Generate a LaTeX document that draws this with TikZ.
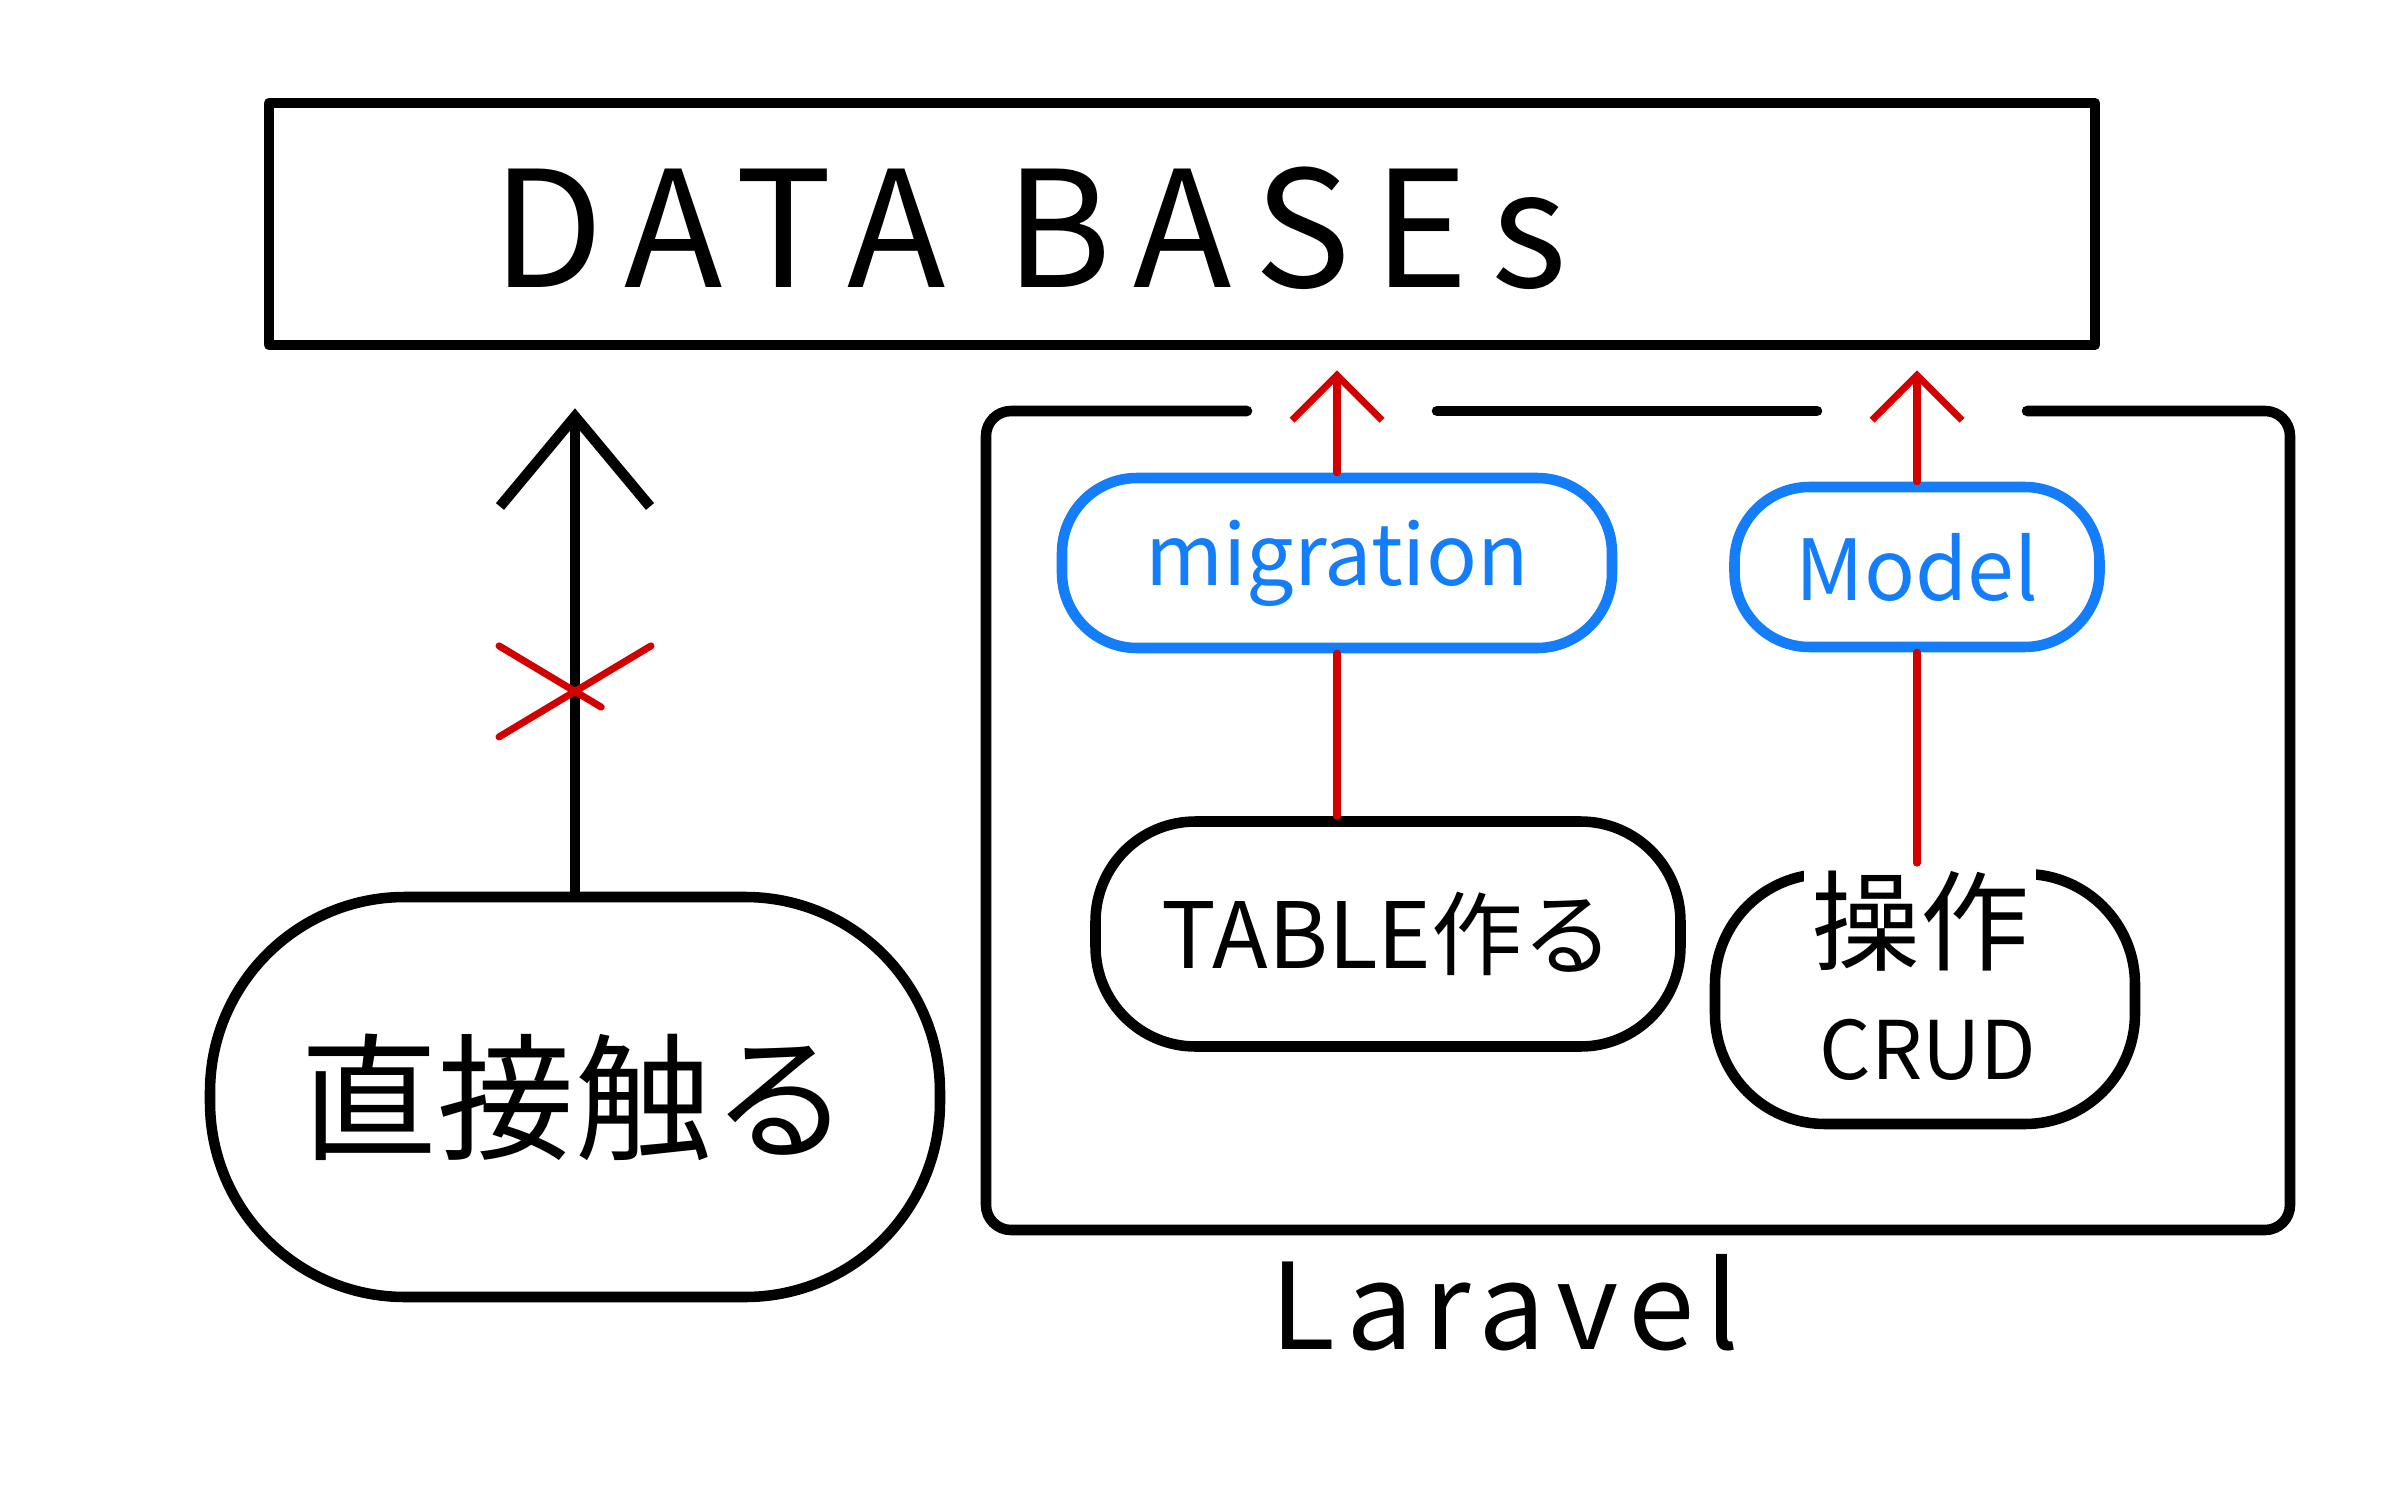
\documentclass[tikz,border=0pt]{standalone}
\usepackage{fontspec}
\setmainfont{Noto Sans CJK JP}
\usetikzlibrary{arrows.meta,calc,positioning,shapes.misc}
\definecolor{penred}{RGB}{210,0,0}
\definecolor{penblue}{RGB}{20,125,250}

\begin{document}
\begin{tikzpicture}[
    ink/.style={line width=3pt, line cap=round, line join=round},
    blob/.style={ink, draw, rounded corners=#1, inner sep=0pt},
    redline/.style={draw=penred, line width=2pt, line cap=round},
    redarrow/.style={redline, -{Straight Barb[length=0.45cm,width=0.9cm,line width=2pt]}, shorten >=0.2cm},
    big/.style={font=\fontsize{#1}{#1}\selectfont}
]
    \useasboundingbox (0,0) rectangle (23.86,14.91);

    % databases
    \node[draw, ink, minimum width=18.26cm, minimum height=2.42cm] (db) at (11.82,12.67) {};
    \node[big=46] (dblabel) at (10.30,12.63) {\addfontfeature{LetterSpace=14}DATA BASEs};

    % direct access
    \node[blob=1.95cm, minimum width=7.3cm, minimum height=4.0cm, big=39] (touch) at (5.75,3.94) {直接触る};
    \draw[ink, -{Straight Barb[length=0.9cm,width=1.5cm,line width=3pt]}, shorten >=0.58cm]
        (touch.north) -- (touch.north |- db.south)
        node[pos=0.37, cross out, draw=penred, line width=2pt, minimum width=1.45cm, minimum height=0.84cm] (ng) {};

    % laravel
    \node[blob=0.75cm, draw=penblue, text=penblue, minimum width=5.5cm, minimum height=1.7cm, big=24] (migration) at (13.37,9.28) {migration};
    \node[blob=0.75cm, draw=penblue, text=penblue, minimum width=3.65cm, minimum height=1.6cm, big=24] (model) at (19.17,9.24) {Model};
    \node[blob=1.0cm, minimum width=5.85cm, minimum height=2.25cm, big=26] (table) at (13.88,5.57) {TABLE作る};
    \node[blob=1.1cm, minimum width=4.2cm, minimum height=2.5cm] (crud) at (19.25,4.92) {};
    \node[big=23] (crudtext) at (19.28,4.41) {CRUD};
    \node[big=31, fill=white, inner sep=2pt] (sousa) at (19.20,5.70) {操作};

    \coordinate (lvNW) at (9.86,10.80);
    \coordinate (lvSE) at (22.90,2.61);
    \coordinate (gapA) at ($(migration.north |- lvNW)+(-0.9,0)$);
    \coordinate (gapB) at ($(migration.north |- lvNW)+(1.0,0)$);
    \coordinate (gapC) at ($(model.north |- lvNW)+(-1.0,0)$);
    \coordinate (gapD) at ($(model.north |- lvNW)+(1.1,0)$);
    \draw[ink, rounded corners=0.25cm] (gapA) -- (lvNW) -- (lvNW |- lvSE) -- (lvSE) -- (lvSE |- lvNW) -- (gapD);
    \draw[ink] (gapB) -- (gapC);
    \node[big=34] (laravel) at (15.05,1.88) {\addfontfeature{LetterSpace=9}Laravel};

    \draw[redline] (table.north -| migration) -- (migration.south);
    \draw[redarrow] (migration.north) -- (migration.north |- db.south);
    \draw[redline] (sousa.north -| model) -- (model.south);
    \draw[redarrow] (model.north) -- (model.north |- db.south);
\end{tikzpicture}
\end{document}
